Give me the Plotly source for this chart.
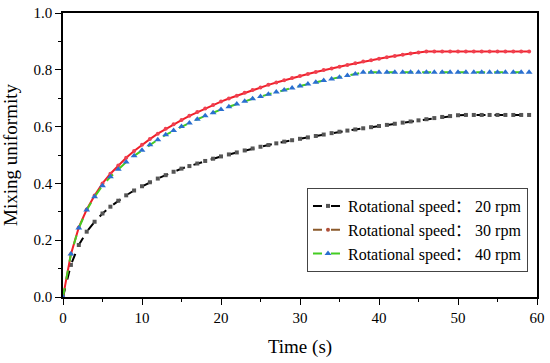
import plotly.graph_objects as go

time_s = list(range(0, 60))

speed_20 = [0.0, 0.113, 0.183, 0.23, 0.265, 0.294, 0.318, 0.339, 0.358, 0.375,
            0.39, 0.404, 0.417, 0.429, 0.441, 0.452, 0.461, 0.470, 0.479, 0.487,
            0.495, 0.502, 0.509, 0.516, 0.523, 0.529, 0.535, 0.541, 0.547, 0.552,
            0.557, 0.562, 0.567, 0.572, 0.577, 0.582, 0.586, 0.590, 0.594, 0.598,
            0.602, 0.606, 0.610, 0.614, 0.618, 0.622, 0.626, 0.630, 0.634, 0.637,
            0.640, 0.641, 0.641, 0.641, 0.641, 0.641, 0.641, 0.641, 0.641, 0.641]

speed_30 = [0.0, 0.151, 0.245, 0.308, 0.357, 0.400, 0.434, 0.463, 0.490, 0.514,
            0.536, 0.556, 0.575, 0.592, 0.608, 0.623, 0.638, 0.651, 0.664, 0.676,
            0.688, 0.699, 0.709, 0.719, 0.729, 0.738, 0.747, 0.755, 0.763, 0.771,
            0.778, 0.785, 0.792, 0.799, 0.805, 0.811, 0.817, 0.823, 0.829, 0.834,
            0.839, 0.844, 0.849, 0.853, 0.857, 0.861, 0.864, 0.864, 0.864, 0.864,
            0.864, 0.864, 0.864, 0.864, 0.864, 0.864, 0.864, 0.864, 0.864, 0.864]

speed_40 = [0.0, 0.151, 0.243, 0.306, 0.353, 0.392, 0.423, 0.450, 0.475, 0.497,
            0.517, 0.536, 0.554, 0.571, 0.586, 0.600, 0.613, 0.626, 0.638, 0.649,
            0.660, 0.670, 0.680, 0.689, 0.698, 0.706, 0.714, 0.722, 0.729, 0.736,
            0.743, 0.750, 0.756, 0.762, 0.768, 0.774, 0.780, 0.785, 0.791, 0.791,
            0.791, 0.791, 0.791, 0.791, 0.791, 0.791, 0.791, 0.791, 0.791, 0.791,
            0.791, 0.791, 0.791, 0.791, 0.791, 0.791, 0.791, 0.791, 0.791, 0.791]

labels = ["Rotational speed： 20 rpm", "Rotational speed： 30 rpm", "Rotational speed： 40 rpm"]

FONT = "Liberation Serif"
LEG_FONT = "Liberation Serif, Noto Sans CJK SC"

fig = go.Figure()

fig.add_trace(go.Scatter(
    x=time_s, y=speed_20, mode="lines+markers", name=labels[0],
    line=dict(color="black", width=2, dash="dash"),
    marker=dict(symbol="square", size=4, color="#555555"),
))
# red curve (plot) + brown legend-only entry
fig.add_trace(go.Scatter(
    x=time_s, y=speed_30, mode="lines+markers", name=labels[1], showlegend=False,
    legendgroup="g30",
    line=dict(color="#f0202a", width=2),
    marker=dict(symbol="circle", size=4, color="#f04050"),
))
fig.add_trace(go.Scatter(
    x=[None], y=[None], mode="lines+markers", name=labels[1], legendgroup="g30",
    line=dict(color="#8b5a2b", width=2, dash="dash"),
    marker=dict(symbol="circle", size=4, color="#b0503a"),
))
fig.add_trace(go.Scatter(
    x=time_s, y=speed_40, mode="lines+markers", name=labels[2],
    line=dict(color="#44cc22", width=2, dash="dash"),
    marker=dict(symbol="triangle-up", size=6, color="#2a6fd0"),
))

axis_common = dict(
    showgrid=False, zeroline=False, showline=True, linecolor="black", linewidth=1.5,
    mirror=True, ticks="outside", ticklen=6, tickwidth=1.3, tickcolor="black",
    tickfont=dict(family=FONT, size=15, color="black"), automargin=False,
)

fig.update_xaxes(
    range=[0, 60], dtick=10, tick0=0,
    minor=dict(dtick=5, ticks="outside", ticklen=3, tickwidth=1.3, tickcolor="black"),
    title=dict(text="Time (s)", font=dict(family=FONT, size=19, color="black")),
    **axis_common,
)
fig.update_yaxes(
    range=[0, 1.0], dtick=0.2, tick0=0, tickformat=".1f",
    minor=dict(dtick=0.1, ticks="outside", ticklen=3, tickwidth=1.3, tickcolor="black"),
    title=dict(text="Mixing uniformity", font=dict(family=FONT, size=19, color="black")),
    **axis_common,
)

fig.update_layout(
    width=550, height=363,
    margin=dict(l=63, r=13, t=13, b=66, autoexpand=False),
    paper_bgcolor="white", plot_bgcolor="white",
    font=dict(family=FONT, size=15, color="black"),
    legend=dict(
        x=0.981, y=0.088, xanchor="right", yanchor="bottom",
        bgcolor="white", bordercolor="#444444", borderwidth=1,
        font=dict(family=LEG_FONT, size=16, color="black"),
        tracegroupgap=0, itemwidth=30,
    ),
    showlegend=True,
)

fig.write_html("out.html", config={"displayModeBar": False},
               post_script="document.body.style.margin='0px';")
